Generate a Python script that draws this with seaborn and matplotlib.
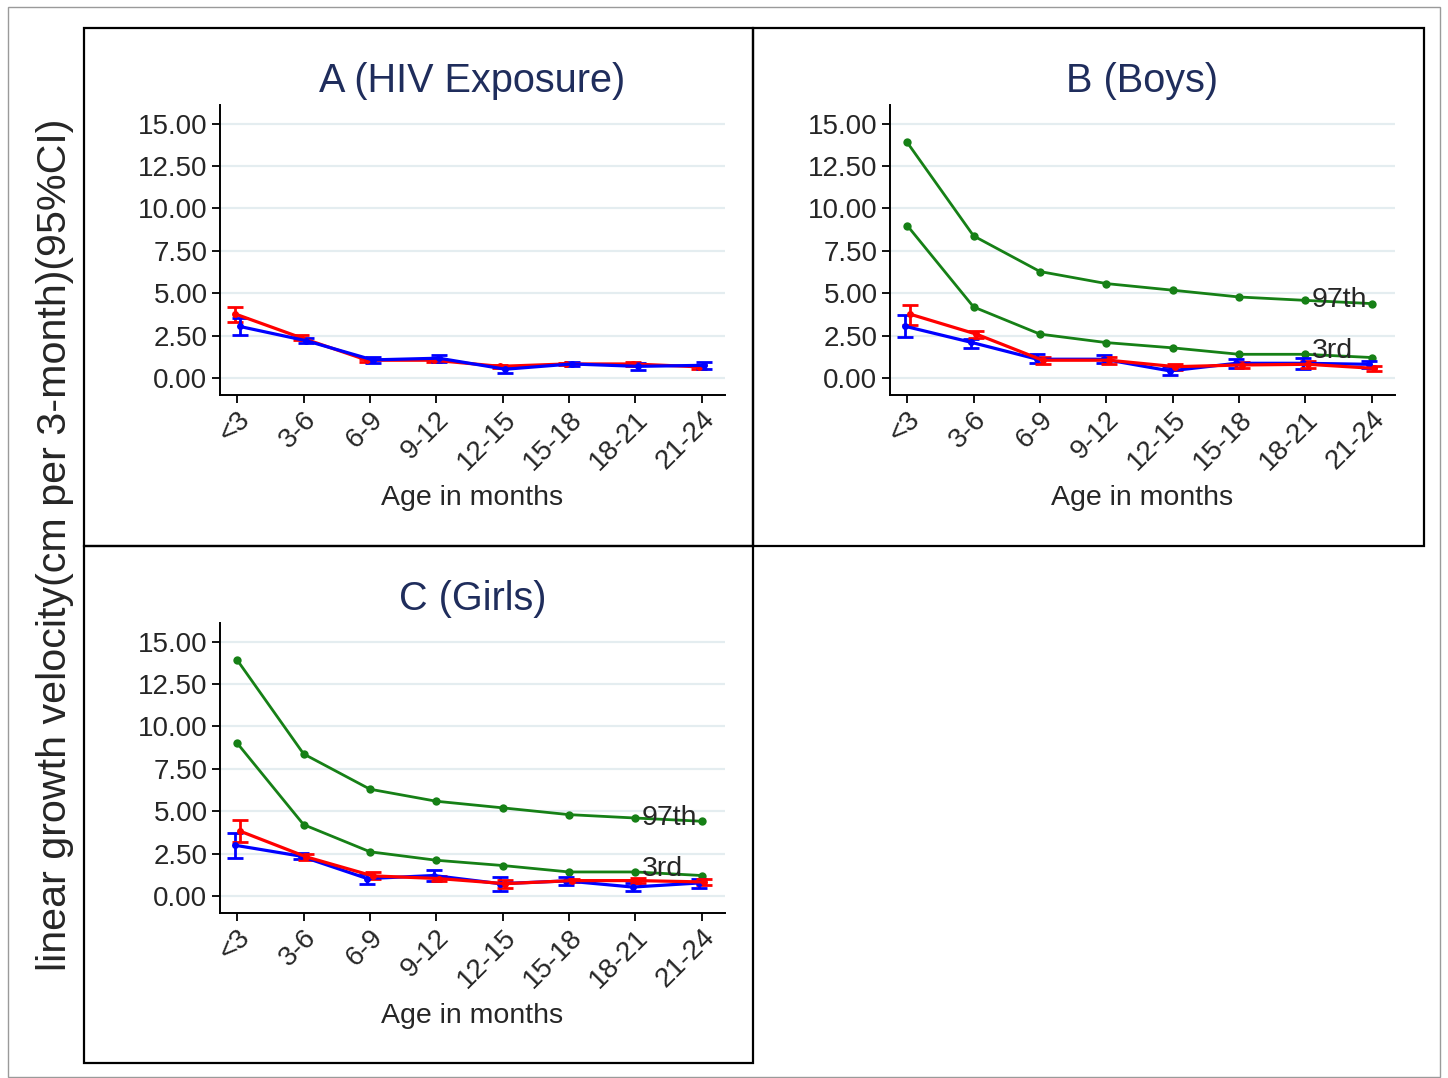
import numpy as np
import pandas as pd
import matplotlib
matplotlib.use("Agg")
import matplotlib.pyplot as plt
from matplotlib.patches import Rectangle
import seaborn as sns

sns.set_theme(style="white")
plt.rcParams['font.family'] = ['Liberation Sans', 'DejaVu Sans']

ages = ['<3', '3-6', '6-9', '9-12', '12-15', '15-18', '18-21', '21-24']
yticks = [0, 2.5, 5, 7.5, 10, 12.5, 15]

# Panel A (HIV Exposure)
A_red = [3.79, 2.38, 1.05, 1.05, 0.69, 0.83, 0.83, 0.66]
A_red_lo = [3.33, 2.24, 0.95, 0.95, 0.59, 0.75, 0.73, 0.56]
A_red_hi = [4.21, 2.52, 1.15, 1.15, 0.79, 0.91, 0.93, 0.76]
A_blue = [3.04, 2.20, 1.07, 1.17, 0.52, 0.83, 0.69, 0.75]
A_blue_lo = [2.54, 2.05, 0.89, 0.95, 0.30, 0.70, 0.50, 0.55]
A_blue_hi = [3.53, 2.35, 1.25, 1.37, 0.73, 0.97, 0.89, 0.93]

# WHO reference (97th and 3rd centiles)
B_p97 = [13.89, 8.38, 6.28, 5.57, 5.18, 4.78, 4.58, 4.39]
B_p3 = [8.99, 4.19, 2.59, 2.09, 1.78, 1.40, 1.40, 1.21]
C_p97 = [13.91, 8.38, 6.30, 5.59, 5.20, 4.80, 4.60, 4.41]
C_p3 = [9.01, 4.21, 2.61, 2.11, 1.80, 1.42, 1.42, 1.21]

# Panel B (Boys)
B_blue = [3.06, 2.11, 1.11, 1.11, 0.42, 0.87, 0.87, 0.81]
B_blue_lo = [2.41, 1.80, 0.87, 0.87, 0.18, 0.57, 0.53, 0.57]
B_blue_hi = [3.74, 2.31, 1.40, 1.36, 0.63, 1.11, 1.17, 1.03]
B_red = [3.77, 2.59, 1.05, 1.05, 0.67, 0.77, 0.81, 0.57]
B_red_lo = [3.14, 2.35, 0.81, 0.83, 0.45, 0.61, 0.57, 0.42]
B_red_hi = [4.29, 2.79, 1.26, 1.26, 0.83, 0.93, 1.01, 0.71]

# Panel C (Girls)
C_blue = [3.00, 2.35, 1.03, 1.21, 0.73, 0.89, 0.53, 0.77]
C_blue_lo = [2.25, 2.17, 0.69, 0.87, 0.30, 0.67, 0.32, 0.47]
C_blue_hi = [3.74, 2.55, 1.32, 1.54, 1.11, 1.11, 0.75, 1.03]
C_red = [3.83, 2.31, 1.19, 1.03, 0.73, 0.91, 0.91, 0.83]
C_red_lo = [3.18, 2.13, 0.99, 0.89, 0.49, 0.81, 0.77, 0.65]
C_red_hi = [4.51, 2.49, 1.39, 1.17, 0.95, 1.01, 1.05, 1.01]

TITLE_C = '#1f2d5c'
RED = '#ff0000'
BLUE = '#0000ff'
GREEN = '#168016'
GRID = '#e4edf0'
TICK_FS = 20
W, H = 1448, 1078
fig = plt.figure(figsize=(W / 100, H / 100), dpi=100)


def fx(px):
    return px / W


def fy(py):
    return 1 - py / H


def add_axes(l, t, r, b):
    return fig.add_axes([fx(l), fy(b), fx(r) - fx(l), fy(t) - fy(b)])


def series(ax, vals, lo, hi, color, off):
    x = np.arange(len(ages)) + off
    df = pd.DataFrame({'x': x, 'y': vals})
    v = np.array(vals)
    err = np.vstack([v - np.array(lo), np.array(hi) - v])
    ax.errorbar(x, v, yerr=err, fmt='none', ecolor=color, elinewidth=2.0,
                capsize=5.5, capthick=2.0, zorder=3)
    sns.lineplot(data=df, x='x', y='y', ax=ax, color=color, lw=2.3,
                 marker='o', markersize=5, markeredgewidth=0, zorder=4,
                 errorbar=None, sort=False)


def green(ax, vals):
    df = pd.DataFrame({'x': np.arange(len(ages)), 'y': vals})
    sns.lineplot(data=df, x='x', y='y', ax=ax, color=GREEN, lw=2.0,
                 marker='o', markersize=6, markeredgewidth=0, zorder=2,
                 errorbar=None, sort=False)


def style(ax, title):
    ax.set_xlim(-0.26, 7.35)
    ax.set_ylim(-1.0, 16.1)
    ax.set_yticks(yticks)
    ax.set_yticklabels([f'{v:.2f}' for v in yticks])
    ax.set_xticks(np.arange(len(ages)))
    ax.set_xticklabels(ages, rotation=45, ha='right', rotation_mode='anchor')
    for v in yticks:
        ax.axhline(v, color=GRID, lw=1.6, zorder=0)
    for s in ['top', 'right']:
        ax.spines[s].set_visible(False)
    for s in ['left', 'bottom']:
        ax.spines[s].set_color('black')
        ax.spines[s].set_linewidth(1.4)
    ax.tick_params(axis='both', which='both', direction='out', length=6,
                   width=1.3, color='black', labelsize=TICK_FS, pad=3,
                   left=True, bottom=True)
    ax.tick_params(axis='x', pad=2)
    ax.set_xlabel('Age in months', fontsize=20.5, labelpad=7)
    ax.set_ylabel('')
    ax.set_title(title, fontsize=28.5, color=TITLE_C, pad=9)
    ax.grid(False)


def centile_labels(ax, p97, p3):
    ax.text(6.1, p97[6], '97th', fontsize=20.5, va='center', ha='left', zorder=5)
    ax.text(6.1, p3[6] + 0.2, '3rd', fontsize=20.5, va='center', ha='left', zorder=5)


axA = add_axes(220, 105, 725, 395)
axB = add_axes(890, 105, 1395, 395)
axC = add_axes(220, 623, 725, 913)

series(axA, A_red, A_red_lo, A_red_hi, RED, -0.04)
series(axA, A_blue, A_blue_lo, A_blue_hi, BLUE, 0.04)
style(axA, 'A (HIV Exposure)')

green(axB, B_p97)
green(axB, B_p3)
series(axB, B_blue, B_blue_lo, B_blue_hi, BLUE, -0.04)
series(axB, B_red, B_red_lo, B_red_hi, RED, 0.04)
centile_labels(axB, B_p97, B_p3)
style(axB, 'B (Boys)')

green(axC, C_p97)
green(axC, C_p3)
series(axC, C_blue, C_blue_lo, C_blue_hi, BLUE, -0.04)
series(axC, C_red, C_red_lo, C_red_hi, RED, 0.04)
centile_labels(axC, C_p97, C_p3)
style(axC, 'C (Girls)')

# panel frames
for (l, t, r, b) in [(84, 28, 753, 546), (753, 28, 1424, 546), (84, 546, 753, 1063)]:
    fig.add_artist(Rectangle((fx(l), fy(b)), fx(r) - fx(l), fy(t) - fy(b),
                             transform=fig.transFigure, fill=False,
                             edgecolor='black', lw=1.6))
# outer frame
fig.add_artist(Rectangle((fx(8), fy(1077)), fx(1440) - fx(8), fy(7) - fy(1077),
                         transform=fig.transFigure, fill=False,
                         edgecolor='#9a9a9a', lw=1.0))

fig.text(fx(55), fy(545), 'linear growth velocity(cm per 3-month)(95%CI)',
         rotation=90, ha='center', va='center', fontsize=29.7)

fig.savefig('out.png', dpi=100)
